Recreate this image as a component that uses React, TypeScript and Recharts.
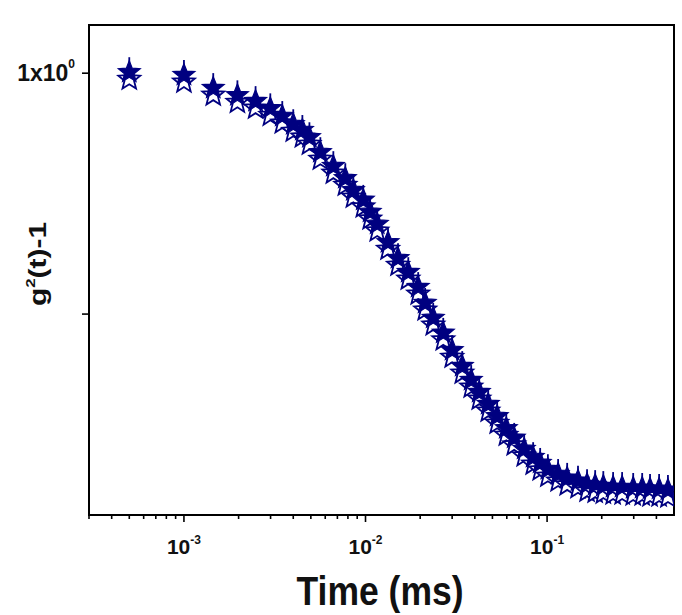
import { ScatterChart, Scatter, XAxis, YAxis, ReferenceArea, Label } from "recharts";

/* ─── Data ──────────────────────────────────────────────────── */

const times = [
  5e-4, 1e-3, 1.45e-3, 1.97e-3, 2.48e-3, 2.99e-3, 3.48e-3, 4.0e-3, 4.49e-3,
  4.91e-3, 5.64e-3, 6.65e-3, 7.74e-3, 8.57e-3, 9.72e-3, 1.06e-2, 1.16e-2,
  1.33e-2, 1.51e-2, 1.72e-2, 1.95e-2, 2.13e-2, 2.36e-2, 2.68e-2, 3.0e-2,
  3.41e-2, 3.82e-2, 4.23e-2, 4.74e-2, 5.31e-2, 5.96e-2, 6.59e-2, 7.48e-2,
  8.38e-2, 9.16e-2, 0.101, 0.115, 0.129, 0.148, 0.166, 0.184, 0.204, 0.231,
  0.259, 0.298, 0.334, 0.369, 0.414, 0.463,
];

const g2Values = [
  1.002, 0.996, 0.969, 0.954, 0.942, 0.927, 0.911, 0.894, 0.882, 0.867, 0.836,
  0.807, 0.782, 0.757, 0.737, 0.712, 0.687, 0.649, 0.616, 0.587, 0.556, 0.523,
  0.492, 0.461, 0.425, 0.392, 0.363, 0.338, 0.313, 0.288, 0.263, 0.243, 0.22,
  0.203, 0.191, 0.178, 0.168, 0.16, 0.154, 0.147, 0.145, 0.143, 0.141, 0.141,
  0.139, 0.139, 0.137, 0.137, 0.135,
];

const majorX = [1e-3, 1e-2, 1e-1];
const minorX = [
  3e-4, 4e-4, 5e-4, 6e-4, 7e-4, 8e-4, 9e-4,
  2e-3, 3e-3, 4e-3, 5e-3, 6e-3, 7e-3, 8e-3, 9e-3,
  2e-2, 3e-2, 4e-2, 5e-2, 6e-2, 7e-2, 8e-2, 9e-2,
  0.2, 0.3, 0.4,
];
const yTicks = [1, 0.5];

const X_DOMAIN: [number, number] = [3e-4, 0.5];
const Y_DOMAIN: [number, number] = [0.083, 1.1];

const NAVY = "#000080";
const FONT = "'Liberation Sans', Arial, sans-serif";

const data = times.map((t, i) => ({ t, g: g2Values[i] }));

/* ─── Helpers ───────────────────────────────────────────────── */

function starPath(cx: number, cy: number, R: number, r: number): string {
  const pts: string[] = [];
  for (let k = 0; k < 10; k++) {
    const rad = k % 2 === 0 ? R : r;
    const a = -Math.PI / 2 + (k * Math.PI) / 5;
    pts.push(`${(cx + rad * Math.cos(a)).toFixed(2)},${(cy + rad * Math.sin(a)).toFixed(2)}`);
  }
  return `M${pts.join("L")}Z`;
}

/* ─── Marker: hollow "shadow" star + filled star ────────────── */

function StarMarker(props: any) {
  const { cx, cy } = props;
  if (cx == null || cy == null) return null;
  return (
    <g>
      <path d={starPath(cx, cy + 7, 11.5, 5)} fill="#fff" stroke={NAVY} strokeWidth={1.8} />
      <line x1={cx} x2={cx} y1={cy - 15} y2={cy - 9} stroke={NAVY} strokeWidth={1.8} />
      <path d={starPath(cx, cy, 11.5, 5)} fill={NAVY} stroke={NAVY} strokeWidth={1.2} />
    </g>
  );
}

/* ─── Ticks ─────────────────────────────────────────────────── */

function TimeTick(props: any) {
  const { x, y, payload } = props;
  const v = payload.value as number;
  const major = majorX.some((m) => Math.abs(m - v) / m < 1e-6);
  const exp = Math.round(Math.log10(v));
  return (
    <g>
      <line x1={x} x2={x} y1={y} y2={y + (major ? 7 : 4)} stroke="#000" strokeWidth={1.6} />
      {major && (
        <text
          x={x}
          y={y + 39}
          textAnchor="middle"
          fontFamily={FONT}
          fontWeight="bold"
          fontSize={21}
          fill="#111"
        >
          <tspan style={{ fontSize: 21 }}>10</tspan>
          <tspan style={{ fontSize: 12 }} dy={-10}>{exp}</tspan>
        </text>
      )}
    </g>
  );
}

function G2Tick(props: any) {
  const { x, y, payload } = props;
  return (
    <g>
      <line x1={x - 7} x2={x} y1={y} y2={y} stroke="#000" strokeWidth={1.6} />
      {payload.value === 1 && (
        <text
          x={x - 14}
          y={y + 8}
          textAnchor="end"
          fontFamily={FONT}
          fontWeight="bold"
          fontSize={23}
          fill="#111"
        >
          <tspan style={{ fontSize: 23 }}>1x10</tspan>
          <tspan style={{ fontSize: 12 }} dy={-13}>0</tspan>
        </text>
      )}
    </g>
  );
}

/* ─── Component ─────────────────────────────────────────────── */

export default function App() {
  return (
    <div style={{ width: 682, height: 615, background: "#fff" }}>
      <style>{"body{margin:0}"}</style>
      <ScatterChart width={682} height={615} margin={{ top: 25, right: 8, bottom: 0, left: 0 }}>
        <XAxis
          dataKey="t"
          type="number"
          scale="log"
          domain={X_DOMAIN}
          allowDataOverflow
          ticks={[...minorX, ...majorX]}
          interval={0}
          height={100}
          tickSize={0}
          tickMargin={0}
          tickLine={false}
          tick={<TimeTick />}
          axisLine={{ stroke: "#000", strokeWidth: 2 }}
        >
          <Label
            content={() => (
              <text
                x={380}
                y={605}
                textAnchor="middle"
                fontFamily={FONT}
                fontWeight="bold"
                fontSize={40}
                textLength={167}
                lengthAdjust="spacingAndGlyphs"
                fill="#111"
              >
                Time (ms)
              </text>
            )}
          />
        </XAxis>
        <YAxis
          dataKey="g"
          type="number"
          domain={Y_DOMAIN}
          allowDataOverflow
          ticks={yTicks}
          interval={0}
          width={89}
          tickSize={0}
          tickMargin={0}
          tickLine={false}
          tick={<G2Tick />}
          axisLine={{ stroke: "#000", strokeWidth: 2 }}
        >
          <Label
            content={() => (
              <text
                transform="translate(46,264) rotate(-90) scale(1.3,1)"
                textAnchor="middle"
                fontFamily={FONT}
                fontWeight="bold"
                fontSize={23}
                fill="#111"
              >
                <tspan style={{ fontSize: 23 }}>g</tspan>
                <tspan style={{ fontSize: 13 }} dy={-11}>2</tspan>
                <tspan style={{ fontSize: 23 }} dy={11}>(t)-1</tspan>
              </text>
            )}
          />
        </YAxis>
        <ReferenceArea
          x1={X_DOMAIN[0]}
          x2={X_DOMAIN[1]}
          y1={Y_DOMAIN[0]}
          y2={Y_DOMAIN[1]}
          fill="none"
          stroke="#000"
          strokeWidth={2}
          ifOverflow="visible"
        />
        <Scatter data={data} shape={<StarMarker />} isAnimationActive={false} />
      </ScatterChart>
    </div>
  );
}
